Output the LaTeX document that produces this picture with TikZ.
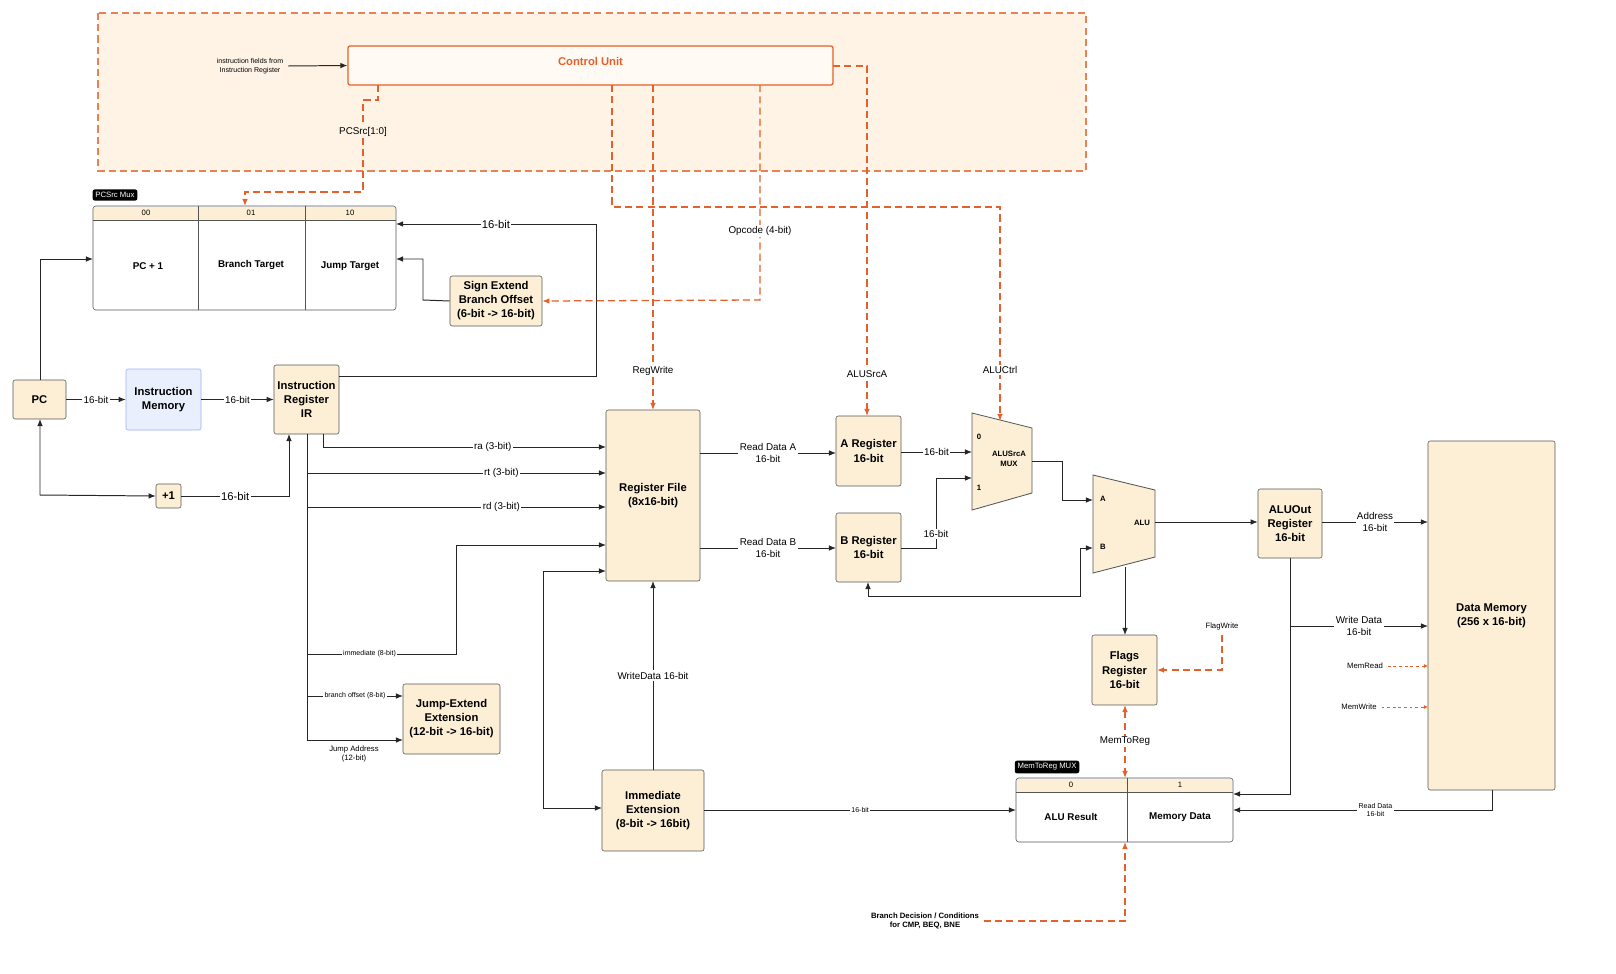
\documentclass[tikz,border=0pt]{standalone}
\usepackage{fontspec}
\setmainfont{Liberation Sans}
\usetikzlibrary{fit,arrows.meta}
\definecolor{boxfill}{HTML}{FCEFD6}
\definecolor{bgfill}{HTML}{FEF3E4}
\definecolor{org}{HTML}{E5602A}
\definecolor{edge}{HTML}{555555}
\definecolor{imfill}{HTML}{E9EFFD}
\definecolor{imedge}{HTML}{9DB0F0}
\tikzset{
  box/.style={draw=edge,fill=boxfill,rounded corners=1.5pt,inner sep=0pt,align=center,font=\fontsize{9}{11}\selectfont\bfseries},
  wbox/.style={draw=edge,fill=white,rounded corners=2pt,inner sep=0pt},
  wire/.style={draw=black!85,line width=0.7pt,-{Latex[length=5pt,width=4pt]}},
  plain/.style={draw=black!85,line width=0.7pt},
  ctl/.style={draw=org,line width=0.9pt,dash pattern=on 5pt off 3pt,-{Latex[length=5pt,width=4pt]}},
  lab/.style={fill=white,inner sep=1pt,font=\fontsize{7}{8}\selectfont},
  slab/.style={fill=white,inner sep=1pt,font=\fontsize{5}{6}\selectfont,align=center},
  tag/.style={fill=black,text=white,rounded corners=1.5pt,inner sep=2pt,font=\fontsize{5.5}{6}\selectfont},
}
\begin{document}
\begin{tikzpicture}[x=0.025cm,y=-0.025cm]
\useasboundingbox (0,0) rectangle (1616,973);
% background control region
\draw[draw=org!80,fill=bgfill,dash pattern=on 5pt off 3pt,line width=0.8pt] (98,13) rectangle (1086,171);
\node[draw=org,fill=white!60!bgfill,rounded corners=1.5pt,line width=0.9pt,inner sep=0pt,fit={(348,46)(833,85)},font=\fontsize{8}{10}\selectfont\bfseries,text=org] (cu) {Control Unit};
\node[align=center,font=\fontsize{5}{6}\selectfont] (ifr) at (250,66) {instruction fields from\\Instruction Register};
\draw[wire] (ifr.east) -- (cu.west);

% PCSrc mux
\node[wbox,fit={(93,206)(396,310)}] (pcmux) {};
\fill[boxfill] (94,207) rectangle (395,220);
\draw[edge] (93,220) -- (396,220);
\draw[edge] (198,206) -- (198,310) (305,206) -- (305,310);
\node[font=\fontsize{5.5}{6}\selectfont] at (146,213) {00};
\node[font=\fontsize{5.5}{6}\selectfont] at (251,213) {01};
\node[font=\fontsize{5.5}{6}\selectfont] at (350,213) {10};
\node[font=\fontsize{7}{8}\selectfont\bfseries] at (148,266) {PC + 1};
\node[font=\fontsize{7}{8}\selectfont\bfseries] at (251,265) {Branch Target};
\node[font=\fontsize{7}{8}\selectfont\bfseries] at (350,266) {Jump Target};
\node[tag] at (115,195) {PCSrc Mux};
\coordinate (m01) at (245,206);

% boxes
\node[box,fit={(450,276)(542,326)}] (se) {};
\node[font=\fontsize{8}{10}\selectfont\bfseries,align=center] at (se) {Sign Extend\\Branch Offset\\(6-bit -> 16-bit)};
\node[box,fit={(13,380)(66,419)}] (pc) {};
\node[font=\fontsize{8}{10}\selectfont\bfseries] at (pc) {PC};
\node[box,draw=imedge,fill=imfill,fit={(126,369)(201,430)}] (im) {};
\node[font=\fontsize{8}{10}\selectfont\bfseries,align=center] at (im) {Instruction\\Memory};
\node[box,fit={(274,365)(339,434)}] (ir) {};
\node[font=\fontsize{8}{10}\selectfont\bfseries,align=center] at (ir) {Instruction\\Register\\IR};
\node[box,fit={(156,484)(181,508)}] (inc) {};
\node[font=\fontsize{8}{10}\selectfont\bfseries] at (inc) {+1};
\node[box,fit={(606,410)(700,581)}] (rf) {};
\node[font=\fontsize{8}{10}\selectfont\bfseries,align=center] at (rf) {Register File\\(8x16-bit)};
\node[box,fit={(836,416)(901,486)}] (ra) {};
\node[font=\fontsize{8}{10}\selectfont\bfseries,align=center] at (ra) {A Register\\16-bit};
\node[box,fit={(836,513)(901,582)}] (rb) {};
\node[font=\fontsize{8}{10}\selectfont\bfseries,align=center] at (rb) {B Register\\16-bit};
\node[box,fit={(1258,489)(1322,558)}] (ao) {};
\node[font=\fontsize{8}{10}\selectfont\bfseries,align=center] at (ao) {ALUOut\\Register\\16-bit};
\node[box,fit={(1428,441)(1555,790)}] (dm) {};
\node[font=\fontsize{8}{10}\selectfont\bfseries,align=center] at (dm) {Data Memory\\(256 x 16-bit)};
\node[box,fit={(1092,635)(1157,705)}] (fl) {};
\node[font=\fontsize{8}{10}\selectfont\bfseries,align=center] at (fl) {Flags\\Register\\16-bit};
\node[box,fit={(602,770)(704,851)}] (ie) {};
\node[font=\fontsize{8}{10}\selectfont\bfseries,align=center] at (ie) {Immediate\\Extension\\(8-bit -> 16bit)};
\node[box,fit={(403,684)(500,754)}] (je) {};
\node[font=\fontsize{8}{10}\selectfont\bfseries,align=center] at (je) {Jump-Extend\\Extension\\(12-bit -> 16-bit)};

% MemToReg mux
\node[wbox,fit={(1016,778)(1233,842)}] (mr) {};
\fill[boxfill] (1017,779) rectangle (1232,792);
\draw[edge] (1016,792) -- (1233,792) (1127,778) -- (1127,842);
\node[font=\fontsize{5.5}{6}\selectfont] at (1071,785) {0};
\node[font=\fontsize{5.5}{6}\selectfont] at (1180,785) {1};
\node[font=\fontsize{7}{8}\selectfont\bfseries] at (1071,817) {ALU Result};
\node[font=\fontsize{7}{8}\selectfont\bfseries] at (1180,817) {Memory Data};
\node[tag] at (1047,767) {MemToReg MUX};

% ALUSrcA mux and ALU
\draw[edge,fill=boxfill,line width=0.6pt] (972,413) -- (1032,428) -- (1032,493) -- (972,510) -- cycle;
\node[font=\fontsize{5.5}{6}\selectfont\bfseries] at (979,437) {0};
\node[font=\fontsize{5.5}{6}\selectfont\bfseries] at (979,488) {1};
\node[font=\fontsize{5.5}{7}\selectfont\bfseries,align=center] at (1009,459) {ALUSrcA\\MUX};
\draw[edge,fill=boxfill,line width=0.6pt] (1093,475) -- (1155,490) -- (1155,557) -- (1093,573) -- cycle;
\node[font=\fontsize{5.5}{6}\selectfont\bfseries] at (1103,499) {A};
\node[font=\fontsize{5.5}{6}\selectfont\bfseries] at (1103,547) {B};
\node[font=\fontsize{5.5}{6}\selectfont\bfseries] at (1142,523) {ALU};

% datapath wires
\draw[wire] (pc.east) -- node[lab]{16-bit} (im.west);
\draw[wire] (im.east) -- node[lab]{16-bit} (ir.west);
\draw[wire] (40,380) -- (40,259) -- (93,259);
\draw[wire,{Latex[length=5pt,width=4pt]}-{Latex[length=5pt,width=4pt]}] (40,419) -- (40,495) -- (inc.west);
\draw[wire] (inc.east) -- node[lab,font=\fontsize{8}{9}\selectfont]{16-bit} (289,496) -- (289,434);
\draw[wire] (339,376) -- (596,376) -- (596,224) -- node[lab,font=\fontsize{8}{9}\selectfont]{16-bit} (396,224);
\draw[wire] (se.west) -- (423,300) -- (423,259) -- (396,259);
\draw[wire] (323,434) -- (323,447) -- node[lab,pos=0.6]{ra (3-bit)} (606,447);
\draw[plain] (307,434) -- (307,740);
\draw[wire] (307,473) -- node[lab,pos=0.65]{rt (3-bit)} (606,473);
\draw[wire] (307,507) -- node[lab,pos=0.65]{rd (3-bit)} (606,507);
\draw[wire] (307,654) -- node[slab,pos=0.42]{immediate (8-bit)} (456,654) -- (456,545) -- (606,545);
\draw[wire] (307,696) -- node[slab]{branch offset (8-bit)} (403,696);
\draw[wire] (307,740) -- (403,740);
\node[align=center,font=\fontsize{5.5}{6.5}\selectfont] at (354,754) {Jump Address\\(12-bit)};
\draw[wire] (700,453) -- node[lab,align=center]{Read Data A\\16-bit} (836,453);
\draw[wire] (700,548) -- node[lab,align=center]{Read Data B\\16-bit} (836,548);
\draw[wire] (901,452) -- node[lab]{16-bit} (972,452);
\draw[wire] (901,548) -- (936,548) -- node[lab,pos=0.2]{16-bit} (936,478) -- (972,478);
\draw[wire] (1032,461) -- (1062,461) -- (1062,500) -- (1093,500);
\draw[wire,{Latex[length=5pt,width=4pt]}-{Latex[length=5pt,width=4pt]}] (868,582) -- (868,596) -- (1080,596) -- (1080,548) -- (1093,548);
\draw[wire] (1155,522) -- (ao.west |- 1258,522);
\draw[wire] (1125,567) -- (1125,635);
\draw[wire] (1322,522) -- node[lab,align=center]{Address\\16-bit} (1428,522);
\draw[wire] (1290,558) -- (1290,794) -- (1233,794);
\draw[wire] (1290,626) -- node[lab,align=center]{Write Data\\16-bit} (1428,626);
\draw[wire] (1492,790) -- (1492,810) -- node[slab,pos=0.45]{Read Data\\16-bit} (1233,810);
\draw[wire] (ie.east |- 704,810) -- node[slab]{16-bit} (1016,810);
\draw[wire] (653,770) -- node[lab]{WriteData 16-bit} (653,581);
\draw[wire,{Latex[length=5pt,width=4pt]}-{Latex[length=5pt,width=4pt]}] (606,571) -- (543,571) -- (543,808) -- (602,808);

% control wires
\draw[ctl] (378,85) -- (378,100) -- (363,100) -- node[lab,fill=bgfill,pos=0.35]{PCSrc[1:0]} (363,192) -- (245,192) -- (m01);
\draw[ctl] (612,85) -- (612,207) -- (1000,207) -- node[lab,pos=0.76]{ALUCtrl} (1000,421);
\draw[ctl] (653,85) -- node[lab,pos=0.88]{RegWrite} (653,410);
\draw[ctl] (760,85) -- node[lab,pos=0.68]{Opcode (4-bit)} (760,300) -- (se.east);
\draw[ctl] (833,66) -- (867,66) -- node[lab,pos=0.88]{ALUSrcA} (867,416);
\node[font=\fontsize{5.5}{6}\selectfont] (fw) at (1222,626) {FlagWrite};
\draw[ctl] (fw.south) -- (1222,670) -- (1157,670);
\draw[ctl,{Latex[length=5pt,width=4pt]}-{Latex[length=5pt,width=4pt]}] (1125,705) -- node[lab]{MemToReg} (1125,778);
\node[font=\fontsize{5.5}{6}\selectfont] (mrd) at (1365,666) {MemRead};
\draw[ctl,line width=0.6pt,dash pattern=on 2pt off 2pt,-{Latex[length=3pt,width=3pt]}] (mrd.east) -- (1428,666);
\node[font=\fontsize{5.5}{6}\selectfont] (mwr) at (1359,707) {MemWrite};
\draw[ctl,line width=0.6pt,dash pattern=on 2pt off 2pt,-{Latex[length=3pt,width=3pt]}] (mwr.east) -- (1428,707);
\node[align=center,font=\fontsize{5.5}{6.5}\selectfont\bfseries] (bd) at (925,921) {Branch Decision / Conditions\\for CMP, BEQ, BNE};
\draw[ctl] (bd.east |- 990,921) -- (1125,921) -- (1125,842);
\end{tikzpicture}
\end{document}
